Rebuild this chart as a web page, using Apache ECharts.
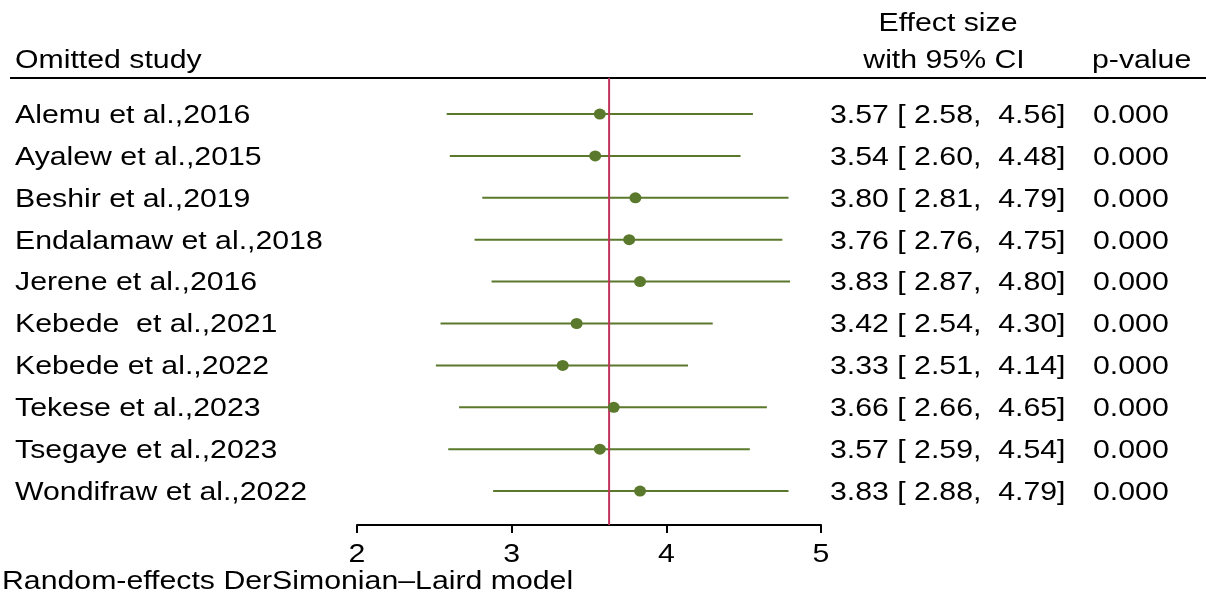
<!DOCTYPE html>
<html>
<head>
<meta charset="utf-8">
<script src="https://cdn.jsdelivr.net/npm/echarts@6/dist/echarts.min.js"></script>
<style>html,body{margin:0;padding:0;background:#fff}#c{width:1206px;height:602px}</style>
</head>
<body>
<div id="c"></div>
<script>
const studies = ["Alemu et al.,2016","Ayalew et al.,2015","Beshir et al.,2019","Endalamaw et al.,2018","Jerene et al.,2016","Kebede  et al.,2021","Kebede et al.,2022","Tekese et al.,2023","Tsegaye et al.,2023","Wondifraw et al.,2022"];
const estimates = [3.57,3.54,3.80,3.76,3.83,3.42,3.33,3.66,3.57,3.83];
const lowers = [2.58,2.60,2.81,2.76,2.87,2.54,2.51,2.66,2.59,2.88];
const uppers = [4.56,4.48,4.79,4.75,4.80,4.30,4.14,4.65,4.54,4.79];
const pvalues = ["0.000","0.000","0.000","0.000","0.000","0.000","0.000","0.000","0.000","0.000"];
const overall = 3.63;
const tickLabels = [2,3,4,5];

const FONT = '"Liberation Sans", Arial, sans-serif';
const FS = 25, SX = 1.21, DY = 2;
const GREEN = '#5a792d', RED = '#c1325c';
const Y_MIN = -0.86, Y_MAX = 9.81;

function txt(x, y, text, align, vAlign){
  return {type:'text', x:x, y:y + DY, scaleX:SX, silent:true,
    style:{text:text, fill:'#000', font: FS+'px '+FONT, textAlign:align||'left', textVerticalAlign:vAlign||'middle'}};
}

const chart = echarts.init(document.getElementById('c'), null, {renderer:'canvas'});
const rowData = studies.map((s,i)=>[i, estimates[i], lowers[i], uppers[i]]);

chart.setOption({
  animation:false,
  backgroundColor:'#fff',
  grid:{left:357, right:385, top:78, bottom:77},
  xAxis:{type:'value', min:2, max:5, interval:1, position:'bottom',
    axisLine:{show:true, onZero:false, lineStyle:{color:'#000', width:2}},
    axisTick:{show:true, inside:false, length:8, lineStyle:{color:'#000', width:2}},
    axisLabel:{show:false}, splitLine:{show:false}},
  yAxis:{type:'value', min:Y_MIN, max:Y_MAX, inverse:true, show:false, splitLine:{show:false}},
  graphic:[
    {type:'line', shape:{x1:10, y1:78, x2:1206, y2:78}, style:{stroke:'#000', lineWidth:2}, silent:true},
    txt(15, 59, 'Omitted study'),
    txt(948, 22, 'Effect size', 'center'),
    txt(944, 59, 'with 95% CI', 'center'),
    txt(1092, 59, 'p-value'),
    txt(2, 580, 'Random-effects DerSimonian\u2013Laird model')
  ],
  series:[
    {type:'line', data:[[overall, Y_MIN],[overall, Y_MAX]], symbol:'none', lineStyle:{color:RED, width:2}, z:3, silent:true},
    {type:'custom', coordinateSystem:'cartesian2d', clip:false, z:2,
      data: rowData,
      encode:{x:[1,2,3], y:0},
      renderItem:function(params, api){
        const i = api.value(0);
        const p1 = api.coord([api.value(2), i]);
        const p2 = api.coord([api.value(3), i]);
        return {type:'line', shape:{x1:p1[0], y1:p1[1], x2:p2[0], y2:p2[1]}, style:{stroke:GREEN, lineWidth:2}};
      }},
    {type:'scatter', data: estimates.map((e,i)=>[e,i]), symbol:'circle', symbolSize:[12,11], itemStyle:{color:GREEN, opacity:1}, z:4, silent:true},
    {type:'custom', coordinateSystem:'cartesian2d', clip:false, silent:true,
      data: rowData,
      encode:{y:0},
      renderItem:function(params, api){
        const i = api.value(0);
        const y = api.coord([2, i])[1];
        const idx = params.dataIndex;
        const ci = estimates[idx].toFixed(2)+' [ '+lowers[idx].toFixed(2)+',  '+uppers[idx].toFixed(2)+']';
        return {type:'group', children:[
          txt(15, y, studies[idx]),
          txt(830, y, ci),
          txt(1093, y, pvalues[idx])
        ]};
      }},
    {type:'custom', coordinateSystem:'cartesian2d', clip:false, silent:true,
      data: tickLabels.map(v=>[v]),
      encode:{x:0},
      renderItem:function(params, api){
        const v = api.value(0);
        const p = api.coord([v, Y_MAX]);
        return txt(p[0], p[1]+28, String(v), 'center');
      }}
  ]
});
</script>
</body>
</html>
